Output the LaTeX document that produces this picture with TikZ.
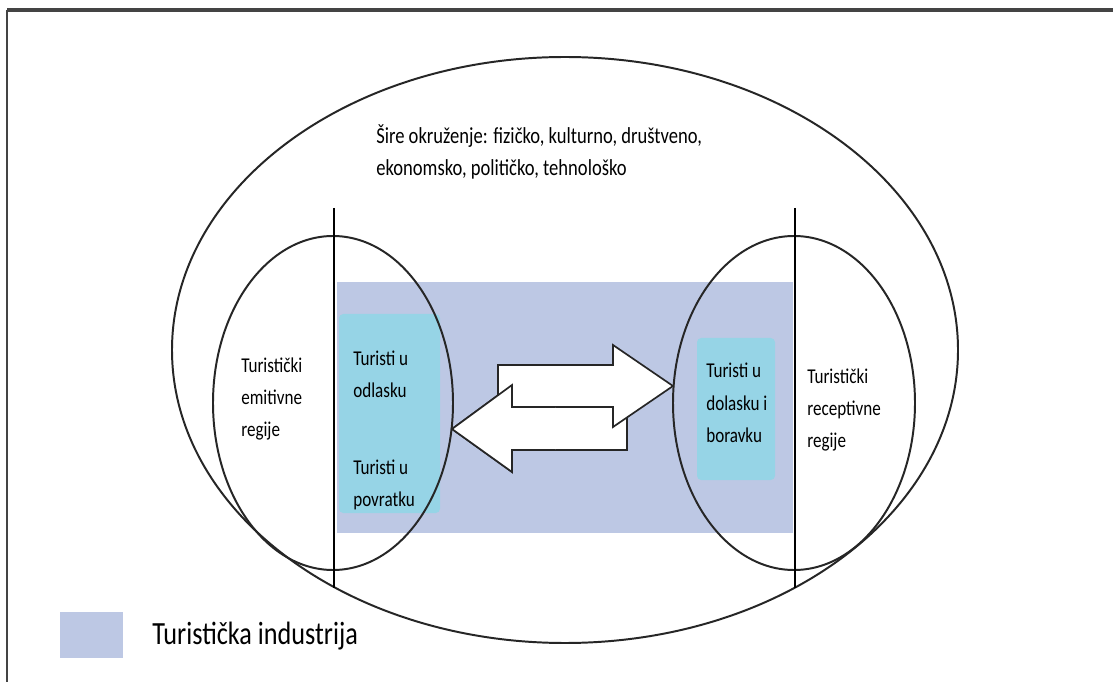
\documentclass[tikz,border=0pt]{standalone}
\usepackage{fontspec}
\setmainfont[FakeStretch=0.81]{Carlito}
\definecolor{industry}{HTML}{BDC8E4}
\definecolor{tourist}{HTML}{96D4E6}
\definecolor{frame}{HTML}{444444}
\tikzset{
	lbl/.style={font=\fontsize{15}{23}\selectfont, align=left, anchor=west, inner sep=0pt},
	region/.style={line width=1.4pt, black!85},
	flow/.style={fill=white, draw=black!85, line width=1.2pt, line join=miter}
}
\begin{document}
\begin{tikzpicture}[x=0.025cm,y=-0.025cm]
	\useasboundingbox (0,0) rectangle (1113,682);
	\fill[white] (0,0) rectangle (1113,682);
	% frame, cut off at right and bottom
	\draw[frame,line width=2.8pt] (7,10)--(1113,10);
	\draw[frame,line width=1.4pt] (7,10)--(7,682);
	% tourism industry
	\fill[industry] (337,282) rectangle (793,533);
	\fill[tourist,rounded corners=3] (339,314) rectangle (440,513);
	\fill[tourist,rounded corners=3] (697,338) rectangle (775,480);
	% environment and regions
	\draw[region] (565,350) ellipse [x radius=393, y radius=293];
	\draw[region] (333,403) ellipse [x radius=120, y radius=167];
	\draw[region] (794,403) ellipse [x radius=121, y radius=167];
	\draw[line width=1.1pt] (334,208)--(334,588);
	\draw[line width=1.1pt] (795,208)--(795,588);
	% flows
	\draw[flow] (627,407)--(512,407)--(512,385)--(452,429)--(512,472)--(512,450)--(627,450)--cycle;
	\draw[flow] (498,365)--(613,365)--(613,345)--(673,386)--(613,427)--(613,407)--(498,407)--cycle;
	\begin{scope}
		\clip (440,370) rectangle (555,490);
		\draw[flow] (627,407)--(512,407)--(512,385)--(452,429)--(512,472)--(512,450)--(627,450)--cycle;
	\end{scope}
	% labels
	\node[lbl,font=\fontsize{16.3}{22.5}\selectfont] (env) at (376,152) {Šire okruženje: fizičko, kulturno, društveno,\\ekonomsko, političko, tehnološko};
	\node[lbl] (emit) at (241,399) {Turistički\\emitivne\\regije};
	\node[lbl] (odl) at (353,374) {Turisti u\\odlasku};
	\node[lbl] (pov) at (353,485) {Turisti u\\povratku};
	\node[lbl] (dol) at (706,403) {Turisti u\\dolasku i\\boravku};
	\node[lbl] (rec) at (807,410) {Turistički\\receptivne\\regije};
	% legend
	\fill[industry] (60,612) rectangle (123,658);
	\node[lbl,font=\fontsize{23}{26}\selectfont] (leg) at (152,636) {Turistička industrija};
\end{tikzpicture}
\end{document}
